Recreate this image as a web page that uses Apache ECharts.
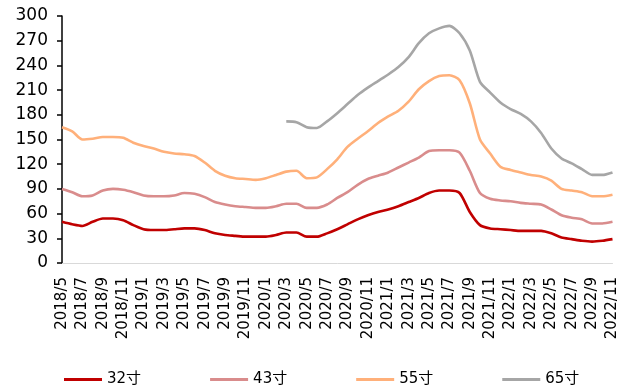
<!DOCTYPE html>
<html>
<head>
<meta charset="utf-8">
<script src="https://cdn.jsdelivr.net/npm/echarts@6/dist/echarts.min.js"></script>
<style>
  html, body { margin: 0; padding: 0; background: #fff; }
  #chart { width: 620px; height: 390px; }
</style>
</head>
<body>
<div id="chart"></div>
<script>
// Monthly panel prices by screen size
const months = [
  '2018/5','2018/6','2018/7','2018/8','2018/9','2018/10','2018/11','2018/12',
  '2019/1','2019/2','2019/3','2019/4','2019/5','2019/6','2019/7','2019/8','2019/9','2019/10','2019/11','2019/12',
  '2020/1','2020/2','2020/3','2020/4','2020/5','2020/6','2020/7','2020/8','2020/9','2020/10','2020/11','2020/12',
  '2021/1','2021/2','2021/3','2021/4','2021/5','2021/6','2021/7','2021/8','2021/9','2021/10','2021/11','2021/12',
  '2022/1','2022/2','2022/3','2022/4','2022/5','2022/6','2022/7','2022/8','2022/9','2022/10','2022/11'
];

const size32 = [
  50,47,45,50,54,54,52,46,
  41,40,40,41,42,42,40,36,34,33,32,32,
  32,34,37,37,32,32,36,41,47,53,58,62,
  65,69,74,79,85,88,88,85,62,46,42,41,
  40,39,39,39,36,31,29,27,26,27,29
];

const size43 = [
  90,86,81,82,88,90,89,86,
  82,81,81,82,85,84,80,74,71,69,68,67,
  67,69,72,72,67,67,71,79,86,95,102,106,
  110,116,122,128,136,137,137,134,112,85,78,76,
  75,73,72,71,65,58,55,53,48,48,50
];

const size55 = [
  165,160,150,151,153,153,152,146,
  142,139,135,133,132,130,122,112,106,103,102,101,
  103,107,111,112,103,104,114,126,141,151,160,170,
  178,185,196,211,221,227,228,222,194,150,133,117,
  113,110,107,105,100,90,88,86,81,81,83
];

const size65 = [
  null,null,null,null,null,null,null,null,
  null,null,null,null,null,null,null,null,null,null,null,null,
  null,null,172,171,165,164,172,182,193,204,213,221,
  229,238,250,267,279,285,288,279,258,220,207,195,
  187,181,172,158,139,127,121,114,107,107,110
];

const seriesNames = ['32寸', '43寸', '55寸', '65寸'];
const seriesColors = ['#C00000', '#D98C8C', '#FFB07A', '#A6A6A6'];
const seriesData = [size32, size43, size55, size65];

const font = 'DejaVu Sans, "Noto Sans CJK SC", sans-serif';

const chart = echarts.init(document.getElementById('chart'), null, { renderer: 'canvas' });

chart.setOption({
  animation: false,
  backgroundColor: '#ffffff',
  grid: { left: 62, right: 3, top: 16, bottom: 127, containLabel: false },
  legend: {
    data: seriesNames,
    left: 59,
    top: 367,
    icon: 'rect',
    itemWidth: 38,
    itemHeight: 3,
    itemGap: 69,
    textStyle: { fontFamily: font, fontSize: 15, color: '#000', padding: [0, 0, 0, 0] }
  },
  xAxis: {
    type: 'category',
    data: months,
    boundaryGap: false,
    axisLine: { lineStyle: { color: '#D9D9D9', width: 1 } },
    axisTick: { show: false },
    axisLabel: {
      interval: 1,
      rotate: 90,
      margin: 14,
      fontFamily: font,
      fontSize: 15,
      color: '#000'
    },
    splitLine: { show: false }
  },
  yAxis: {
    type: 'value',
    min: 0,
    max: 300,
    interval: 30,
    axisLine: { show: true, lineStyle: { color: '#000', width: 1.5 } },
    axisTick: { show: true, length: 5, lineStyle: { color: '#000', width: 1.5 } },
    axisLabel: { margin: 14, fontFamily: font, fontSize: 17, color: '#000' },
    splitLine: { show: false }
  },
  series: seriesNames.map((name, i) => ({
    name: name,
    type: 'line',
    data: seriesData[i],
    symbol: 'none',
    smooth: 0.25,
    connectNulls: false,
    lineStyle: { color: seriesColors[i], width: 2.6 },
    itemStyle: { color: seriesColors[i] }
  }))
});
</script>
</body>
</html>
